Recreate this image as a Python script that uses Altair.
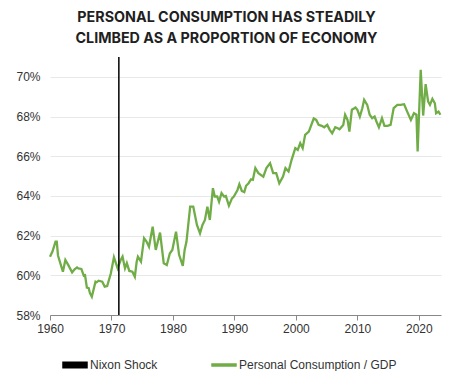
import altair as alt
import pandas as pd

# Personal consumption as a share of GDP (%)
years = [1960.0, 1960.4, 1960.9, 1961.1, 1961.3, 1962.1, 1962.5, 1963.0, 1963.6, 1964.0,
         1964.4, 1964.6, 1965.1, 1965.5, 1965.7, 1966.0, 1966.3, 1966.5, 1966.8, 1967.4,
         1967.6, 1967.9, 1968.5, 1968.9, 1969.3, 1969.9, 1970.4, 1971.0, 1971.5, 1971.8,
         1972.2, 1972.5, 1972.9, 1973.4, 1973.8, 1974.1, 1974.3, 1974.8, 1975.3, 1975.7,
         1976.1, 1976.7, 1977.2, 1977.9, 1978.5, 1979.0, 1979.5, 1979.9, 1980.5, 1981.0,
         1981.6, 1981.9, 1982.2, 1982.8, 1983.3, 1983.9, 1984.4, 1984.8, 1985.2, 1985.6,
         1986.0, 1986.5, 1986.8, 1987.2, 1987.5, 1987.9, 1988.3, 1988.6, 1989.1, 1989.6,
         1989.9, 1990.5, 1990.8, 1991.2, 1991.6, 1991.9, 1992.3, 1992.7, 1993.0, 1993.4,
         1993.9, 1994.7, 1995.2, 1995.8, 1996.3, 1996.8, 1997.3, 1997.9, 1998.3, 1998.8,
         1999.3, 1999.9, 2000.3, 2000.7, 2001.1, 2001.5, 2002.1, 2002.9, 2003.3, 2003.7,
         2004.2, 2004.6, 2005.1, 2005.5, 2005.9, 2006.4, 2006.8, 2007.1, 2007.7, 2008.0,
         2008.4, 2008.7, 2009.1, 2009.7, 2010.0, 2010.4, 2010.8, 2011.1, 2011.6, 2012.0,
         2012.4, 2012.8, 2013.1, 2013.5, 2014.0, 2014.4, 2014.9, 2015.4, 2015.9, 2016.5,
         2017.0, 2017.6, 2018.1, 2018.7, 2019.2, 2019.6, 2019.8, 2020.3, 2020.7, 2021.1,
         2021.5, 2021.8, 2022.2, 2022.6, 2022.8, 2023.2, 2023.5]
values = [60.94, 61.20, 61.70, 61.70, 61.00, 60.18, 60.77, 60.50, 60.15, 60.30,
          60.40, 60.35, 60.32, 59.98, 60.00, 59.38, 59.35, 59.10, 58.92, 59.68,
          59.65, 59.73, 59.68, 59.43, 59.46, 60.10, 60.91, 60.35, 60.77, 60.94,
          60.35, 60.61, 60.22, 60.18, 59.93, 60.69, 60.94, 60.69, 61.87, 61.70,
          61.44, 62.45, 61.28, 62.15, 60.61, 60.52, 61.11, 61.28, 62.20, 61.03,
          60.47, 61.28, 61.70, 63.46, 63.46, 62.54, 62.12, 62.54, 62.79, 63.46,
          62.79, 64.39, 63.97, 63.97, 63.71, 64.14, 63.97, 64.00, 63.51, 63.88,
          63.97, 64.30, 64.59, 64.25, 64.19, 64.51, 64.64, 64.84, 64.81, 65.40,
          65.15, 64.97, 65.40, 65.65, 65.15, 65.15, 64.64, 64.97, 65.40, 65.23,
          65.82, 66.41, 66.32, 66.66, 66.41, 67.08, 67.24, 67.90, 67.83, 67.58,
          67.53, 67.46, 67.58, 67.33, 67.16, 67.46, 67.41, 67.36, 67.58, 68.09,
          67.83, 67.24, 68.34, 68.45, 68.34, 68.00, 68.42, 68.84, 68.59, 68.09,
          67.92, 68.00, 67.75, 67.46, 67.92, 67.53, 67.53, 67.58, 68.42, 68.59,
          68.59, 68.62, 68.25, 67.83, 68.17, 68.09, 66.24, 70.35, 68.05, 69.63,
          68.76, 68.59, 68.89, 68.67, 68.17, 68.25, 68.09]

nixon_years = [1971.2]
series_names = ["Nixon Shock", "Personal Consumption / GDP"]
series_colors = ["#000000", "#70ad47"]
x_ticks = [1960, 1970, 1980, 1990, 2000, 2010, 2020]
y_ticks = [58, 60, 62, 64, 66, 68, 70]

line_df = pd.DataFrame({"year": years, "value": values, "series": series_names[1]})
rule_df = pd.DataFrame({"year": nixon_years, "series": [series_names[0]]})
key_df = pd.DataFrame({"series": series_names})

FONT = "Liberation Sans"

x_enc = alt.X(
    "year:Q",
    scale=alt.Scale(domain=[1960, 2023.6], nice=False, zero=False),
    axis=alt.Axis(values=x_ticks, format="d", title=None, grid=False,
                  domainColor="#888888", tickColor="#888888", tickSize=5,
                  labelFont=FONT, labelFontSize=12, labelColor="#333333",
                  labelPadding=3, labelFlush=False),
)
y_enc = alt.Y(
    "value:Q",
    scale=alt.Scale(domain=[58, 71], nice=False, zero=False),
    axis=alt.Axis(values=y_ticks, labelExpr="datum.value + '%'", title=None,
                  domain=False, ticks=False, gridColor="#e8e8e8",
                  labelFont=FONT, labelFontSize=12, labelColor="#333333",
                  labelPadding=10, labelFlush=False),
)

color_scale = alt.Scale(domain=series_names, range=series_colors)
legend_cfg = alt.Legend(
    title=None, orient="none", direction="horizontal",
    legendX=12, legendY=295, symbolSize=576, symbolOpacity=1,
    labelFont=FONT, labelFontSize=12, labelColor="#333333",
    labelOffset=2, columnPadding=51,
)

line = alt.Chart(line_df).mark_line(strokeWidth=2.3).encode(
    x=x_enc, y=y_enc, color=alt.Color("series:N", scale=color_scale, legend=legend_cfg)
)
rule = alt.Chart(rule_df).mark_rule(strokeWidth=1.5).encode(
    x=x_enc, color=alt.Color("series:N", scale=color_scale, legend=legend_cfg)
)
key = alt.Chart(key_df).mark_point(filled=True, opacity=0, size=576).encode(
    x=alt.value(200), y=alt.value(100),
    color=alt.Color("series:N", scale=color_scale, legend=legend_cfg),
    shape=alt.Shape("series:N",
                    scale=alt.Scale(domain=series_names,
                                    range=["M-1,-0.22H1V0.22H-1Z", "M-1,-0.085H1V0.085H-1Z"]),
                    legend=legend_cfg),
)

chart = alt.layer(line, rule, key).properties(
    width=391,
    height=258,
    title=alt.Title(
        text=["PERSONAL CONSUMPTION HAS STEADILY", "CLIMBED AS A PROPORTION OF ECONOMY"],
        font="Inter", fontSize=14.3, fontWeight="bold", color="#1f1f1f",
        anchor="middle", frame="group", dx=-19, offset=10, lineHeight=21,
    ),
    autosize=alt.AutoSizeParams(type="none"),
    padding={"left": 42, "top": 49, "right": 5, "bottom": 56},
).configure_view(stroke=None)

chart.save("out.html", embed_options={"renderer": "svg", "actions": False})
